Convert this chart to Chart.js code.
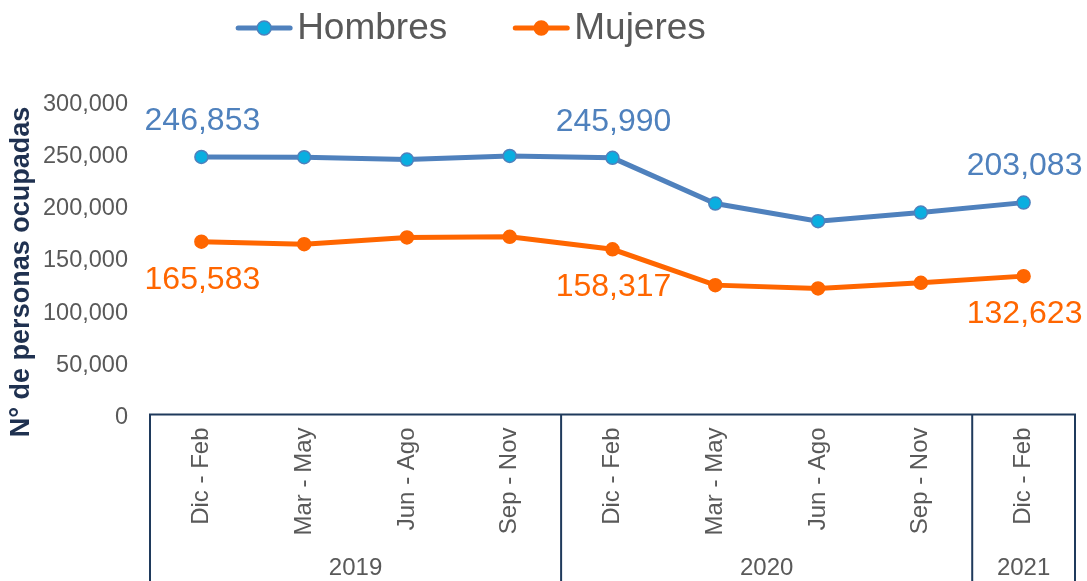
<!DOCTYPE html>
<html>
<head>
<meta charset="utf-8">
<script src="https://cdn.jsdelivr.net/npm/chart.js@4/dist/chart.umd.min.js"></script>
<style>
  html, body { margin: 0; padding: 0; background: #ffffff; }
  #wrap { width: 1087px; height: 581px; }
</style>
</head>
<body>
<div id="wrap"><canvas id="lineChart" width="1087" height="581"></canvas></div>
<script>
// data
var periodLabels = ["Dic - Feb", "Mar - May", "Jun - Ago", "Sep - Nov", "Dic - Feb", "Mar - May", "Jun - Ago", "Sep - Nov", "Dic - Feb"];
var yearLabels = ["2019", "2020", "2021"];
var yearSizes = [4, 4, 1];
var hombres = [246853, 246600, 244400, 247800, 245990, 202200, 185300, 193600, 203083];
var mujeres = [165583, 163250, 169700, 170250, 158317, 124000, 120850, 126200, 132623];
var labelledPoints = [0, 4, 8]; // points that show their value
var yTicks = [0, 50000, 100000, 150000, 200000, 250000, 300000];

var fontName = "'Liberation Sans', Arial, sans-serif";
var greyText = "#595959";
var navy = "#1f3a5c";

window.onload = function () {

	var ctx = document.getElementById('lineChart').getContext('2d');

	function fmt(v) {
		return v.toLocaleString('en-US');
	}

	// legend drawn by hand so it sits where the original one is
	var legendPlugin = {
		id: 'lineLegend',
		afterDraw: function (chart) {
			var c = chart.ctx;
			var iconW = 56, gap = 5, between = 66, cy = 28;
			c.save();
			c.font = "37px " + fontName;
			var widths = chart.data.datasets.map(function (ds) {
				return iconW + gap + c.measureText(ds.label).width;
			});
			var total = widths[0] + between + widths[1];
			var x = 471 - total / 2;
			chart.data.datasets.forEach(function (ds, i) {
				c.strokeStyle = ds.borderColor;
				c.lineWidth = 5;
				c.lineCap = 'round';
				c.beginPath();
				c.moveTo(x + 2, cy);
				c.lineTo(x + iconW - 2, cy);
				c.stroke();
				c.beginPath();
				c.arc(x + iconW / 2, cy, 7, 0, Math.PI * 2);
				c.fillStyle = ds.pointBackgroundColor;
				c.fill();
				c.lineWidth = 1.5;
				c.strokeStyle = ds.pointBorderColor;
				c.stroke();
				c.fillStyle = greyText;
				c.textAlign = 'left';
				c.textBaseline = 'middle';
				c.fillText(ds.label, x + iconW + gap, cy + 1);
				x += widths[i] + between;
			});
			c.restore();
		}
	};

	// value labels on first point, Dic-Feb 2020 and last point
	var valuePlugin = {
		id: 'valueLabels',
		afterDatasetsDraw: function (chart) {
			var c = chart.ctx;
			c.save();
			c.font = "32px " + fontName;
			c.textAlign = 'center';
			c.textBaseline = 'middle';
			chart.data.datasets.forEach(function (ds, d) {
				var meta = chart.getDatasetMeta(d);
				labelledPoints.forEach(function (i) {
					var pt = meta.data[i];
					c.fillStyle = ds.labelColor;
					c.fillText(fmt(ds.data[i]), pt.x + 1, pt.y + ds.labelOffset);
				});
			});
			c.restore();
		}
	};

	// year boxes under the period labels plus the axis title
	var groupPlugin = {
		id: 'yearGroups',
		afterDraw: function (chart) {
			var c = chart.ctx;
			var xs = chart.scales.x;
			var area = chart.chartArea;
			var bottom = chart.height;
			var edges = [area.left];
			var idx = 0;
			yearSizes.forEach(function (n) {
				idx += n;
				if (idx < periodLabels.length) {
					edges.push((xs.getPixelForValue(idx - 1) + xs.getPixelForValue(idx)) / 2);
				} else {
					edges.push(area.right);
				}
			});
			c.save();
			c.strokeStyle = navy;
			c.lineWidth = 2;
			c.beginPath();
			c.moveTo(area.left - 1, area.bottom);
			c.lineTo(area.right + 1, area.bottom);
			edges.forEach(function (ex) {
				c.moveTo(ex, area.bottom - 1);
				c.lineTo(ex, bottom);
			});
			c.stroke();
			c.fillStyle = greyText;
			c.font = "24px " + fontName;
			c.textAlign = 'center';
			c.textBaseline = 'middle';
			yearLabels.forEach(function (y, i) {
				c.fillText(y, (edges[i] + edges[i + 1]) / 2, 568);
			});
			// y axis title
			c.translate(22, 272);
			c.rotate(-Math.PI / 2);
			c.fillStyle = "#1f3150";
			c.font = "bold 27px " + fontName;
			c.fillText("N° de personas ocupadas", 0, 0);
			c.restore();
		}
	};

	var chart = new Chart(ctx, {
		type: 'line',
		data: {
			labels: periodLabels,
			datasets: [{
				label: "Hombres",
				data: hombres,
				borderColor: "#4f81bd",
				backgroundColor: "#4f81bd",
				borderWidth: 5,
				pointRadius: 6.5,
				pointHoverRadius: 6.5,
				pointBackgroundColor: "#0aaee0",
				pointBorderColor: "#4f81bd",
				pointBorderWidth: 1.5,
				labelColor: "#4f81bd",
				labelOffset: -36,
				tension: 0
			},
			{
				label: "Mujeres",
				data: mujeres,
				borderColor: "#ff6600",
				backgroundColor: "#ff6600",
				borderWidth: 5,
				pointRadius: 6.5,
				pointHoverRadius: 6.5,
				pointBackgroundColor: "#ff6600",
				pointBorderColor: "#ff6600",
				pointBorderWidth: 1.5,
				labelColor: "#ff6600",
				labelOffset: 38,
				tension: 0
			}]
		},
		options: {
			responsive: false,
			animation: false,
			layout: { padding: { left: 0, top: 101.5, right: 12, bottom: 0 } },
			plugins: {
				legend: { display: false },
				tooltip: { enabled: false }
			},
			scales: {
				x: {
					offset: true,
					grid: { display: false, drawTicks: false, offset: true },
					border: { display: false },
					ticks: {
						minRotation: 90,
						maxRotation: 90,
						autoSkip: false,
						padding: 13,
						color: greyText,
						font: { family: fontName, size: 24 }
					},
					afterFit: function (scale) { scale.height = 166.5; }
				},
				y: {
					min: 0,
					max: 300000,
					grid: { display: false, drawTicks: false },
					border: { display: false },
					afterBuildTicks: function (scale) {
						scale.ticks = yTicks.map(function (v) { return { value: v }; });
					},
					ticks: {
						padding: 22,
						labelOffset: 3,
						color: greyText,
						font: { family: fontName, size: 23.5 },
						callback: function (v) { return fmt(v); }
					},
					afterFit: function (scale) { scale.width = 150; }
				}
			}
		},
		plugins: [legendPlugin, valuePlugin, groupPlugin]
	});
};
</script>
</body>
</html>
